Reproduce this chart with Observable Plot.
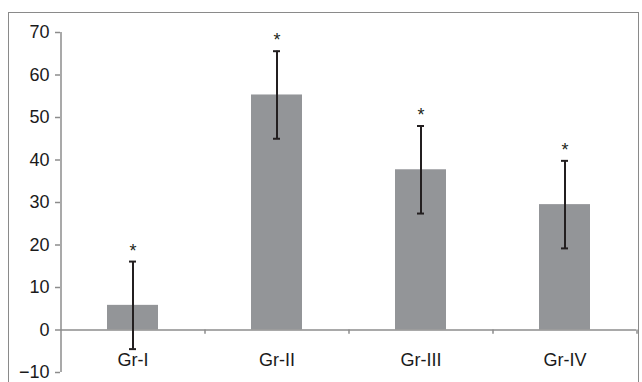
<!DOCTYPE html>
<html>
<head>
<meta charset="utf-8">
<script src="https://cdn.jsdelivr.net/npm/d3@7"></script>
<script src="https://cdn.jsdelivr.net/npm/@observablehq/plot@0.6"></script>
<style>
  html, body { margin: 0; padding: 0; background: #fff; }
  #wrap { position: relative; width: 642px; height: 382px; overflow: hidden; }
  #border { position: absolute; left: 8px; top: 12px; width: 631px; height: 400px;
            border: 1px solid #8a8a8a; border-bottom: none; box-sizing: border-box; }
  #chart { position: absolute; left: 0; top: 0; }
  #chart svg text { font-family: "Liberation Sans", Arial, sans-serif !important; font-size: 18px !important; }
</style>
</head>
<body>
<div id="wrap"><div id="border"></div><div id="chart"></div></div>
<script>
const groups = ["Gr-I", "Gr-II", "Gr-III", "Gr-IV"];
const means = [5.8, 55.3, 37.7, 29.5];
const errors = [10.3, 10.3, 10.3, 10.3];
const yTicks = [-10, 0, 10, 20, 30, 40, 50, 60, 70];

const data = groups.map((g, i) => ({
  group: g, mean: means[i], lo: means[i] - errors[i], hi: means[i] + errors[i]
}));

const axisColor = "#8c8c8c";

const chart = Plot.plot({
  width: 642,
  height: 382,
  marginLeft: 60,
  marginRight: 6,
  marginTop: 32,
  marginBottom: 52.5,
  style: { color: "#1a1a1a", background: "transparent" },
  x: { domain: groups, paddingInner: 0.646, paddingOuter: 0.323 },
  y: { domain: [-10, 70], range: [372, 32] },
  marks: [
    Plot.barY(data, { x: "group", y: "mean", fill: "#939598" }),
    Plot.ruleY([0], { stroke: axisColor, strokeWidth: 1.5 }),
    Plot.ruleX([groups[0]], { y1: -10, y2: 70, dx: -72, stroke: axisColor, strokeWidth: 1.5 }),
    Plot.ruleX(groups, { y1: 0, y2: -1, dx: 72, stroke: axisColor, strokeWidth: 1.5 }),
    Plot.axisY({ ticks: yTicks, tickSize: 5, tickPadding: 6, stroke: axisColor, strokeWidth: 1.5, label: null, fill: "#1a1a1a" }),
    Plot.axisX({ tickSize: 0, tickPadding: 23, label: null, fill: "#1a1a1a" }),
    Plot.ruleX(data, { x: "group", y1: "lo", y2: "hi", stroke: "#231f20", strokeWidth: 2 }),
    Plot.tickY(data, { x: "group", y: "lo", stroke: "#231f20", strokeWidth: 2, insetLeft: 22, insetRight: 22 }),
    Plot.tickY(data, { x: "group", y: "hi", stroke: "#231f20", strokeWidth: 2, insetLeft: 22, insetRight: 22 }),
    Plot.text(data, { x: "group", y: "hi", text: () => "*", dy: -5, lineAnchor: "bottom", fill: "#231f20" })
  ]
});
document.getElementById("chart").appendChild(chart);
</script>
</body>
</html>
